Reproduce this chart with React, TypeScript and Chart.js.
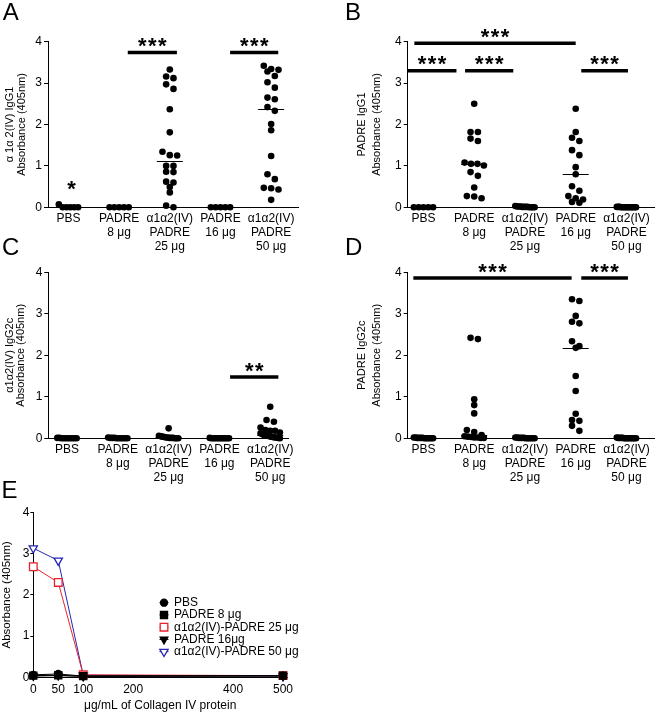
import React, { useEffect, useRef } from 'react';
import { Chart, registerables } from 'chart.js';

Chart.register(...registerables);

const FONT = "'Liberation Sans', Arial, Helvetica, sans-serif";
Chart.defaults.font.family = FONT;
Chart.defaults.color = '#000';

// ---------- shared categories / ticks ----------
const groupLabels: string[][] = [
  ['PBS'],
  ['PADRE', '8 μg'],
  ['α1α2(IV)', 'PADRE', '25 μg'],
  ['PADRE', '16 μg'],
  ['α1α2(IV)', 'PADRE', '50 μg'],
];
const yTicks = [0, 1, 2, 3, 4];

// ---------- Panel A : α1α2(IV) IgG1 ----------
const aPBS = [0.07, 0, 0, 0, 0, 0];
const aPADRE8 = [0, 0, 0, 0, 0];
const aAlpha25 = [3.33, 3.16, 3.12, 2.97, 2.86, 2.37, 1.81, 1.34, 1.26, 1.25, 1.0, 1.0, 0.86, 0.85, 0.62, 0.6, 0.49, 0.36, 0.04, 0.0];
const aPADRE16 = [0, 0, 0, 0, 0];
const aAlpha50 = [3.42, 3.34, 3.32, 3.28, 3.17, 3.02, 2.89, 2.65, 2.61, 2.42, 2.33, 2.01, 1.86, 1.24, 0.8, 0.68, 0.47, 0.46, 0.43, 0.18];
const aSig = [
  { from: 2.17, to: 3.14, y: 3.74, label: '***' },
  { from: 4.19, to: 5.14, y: 3.74, label: '***' },
];
const aMarks = [{ x: 1.06, y: 0.58, label: '*' }];

// ---------- Panel B : PADRE IgG1 ----------
const bPBS = [0, 0, 0, 0, 0];
const bPADRE8 = [2.5, 1.82, 1.82, 1.66, 1.6, 1.08, 1.05, 1.05, 1.01, 0.85, 0.76, 0.48, 0.27, 0.26, 0.22];
const bAlpha25 = [0.03, 0.02, 0.02, 0.02, 0.01, 0.01, 0.01, 0.01, 0, 0, 0, 0];
const bPADRE16 = [2.38, 1.82, 1.68, 1.6, 1.38, 1.26, 0.97, 0.8, 0.51, 0.4, 0.27, 0.22, 0.19, 0.13, 0.11];
const bAlpha50 = [0.01, 0.01, 0.01, 0, 0, 0, 0, 0, 0, 0, 0, 0, 0, 0];
const bSig = [
  { from: 0.82, to: 4.0, y: 3.96, label: '***' },
  { from: 0.69, to: 1.65, y: 3.3, label: '***' },
  { from: 1.82, to: 2.77, y: 3.3, label: '***' },
  { from: 4.11, to: 5.03, y: 3.3, label: '***' },
];

// ---------- Panel C : α1α2(IV) IgG2c ----------
const cPBS = [0.01, 0.01, 0, 0, 0, 0, 0, 0, 0, 0];
const cPADRE8 = [0.02, 0.01, 0.01, 0.01, 0, 0, 0, 0, 0, 0];
const cAlpha25 = [0.24, 0.06, 0.05, 0.04, 0.03, 0.02, 0.02, 0.01, 0.01, 0.01, 0, 0, 0];
const cPADRE16 = [0.01, 0, 0, 0, 0, 0, 0, 0, 0, 0, 0, 0];
const cAlpha50 = [0.76, 0.44, 0.4, 0.26, 0.2, 0.18, 0.18, 0.14, 0.12, 0.1, 0.08, 0.07, 0.06, 0.05, 0.04, 0.03, 0.02, 0.02, 0.01, 0];
const cSig = [{ from: 4.21, to: 5.16, y: 1.48, label: '**' }];

// ---------- Panel D : PADRE IgG2c ----------
const dPBS = [0.02, 0.02, 0.01, 0.01, 0.01, 0.01, 0, 0, 0, 0, 0, 0];
const dPADRE8 = [2.42, 2.39, 0.94, 0.8, 0.6, 0.2, 0.15, 0.08, 0.05, 0.04, 0.03, 0.02, 0.02, 0.01, 0.01];
const dAlpha25 = [0.02, 0.02, 0.01, 0.01, 0.01, 0.01, 0, 0, 0, 0, 0, 0];
const dPADRE16 = [3.35, 3.31, 2.95, 2.81, 2.77, 2.34, 2.22, 2.18, 1.5, 1.14, 0.59, 0.44, 0.42, 0.3, 0.18];
const dAlpha50 = [0.02, 0.01, 0.01, 0.01, 0.01, 0, 0, 0, 0, 0, 0, 0, 0, 0];
const dSig = [
  { from: 0.8, to: 3.92, y: 3.86, label: '***' },
  { from: 4.11, to: 5.03, y: 3.86, label: '***' },
];

// ---------- Panel E : titration ----------
const eConc = [0, 50, 100, 500];
const eTicks = [0, 50, 100, 200, 400, 500];
const eSeriesNames = ['PBS', 'PADRE 8 μg', 'α1α2(IV)-PADRE 25 μg', 'PADRE 16μg', 'α1α2(IV)-PADRE 50 μg'];
const ePBS = [0.06, 0.08, 0.03, 0.04];
const ePADRE8 = [0.04, 0.05, 0.03, 0.04];
const eAlpha25 = [2.68, 2.3, 0.06, 0.04];
const ePADRE16 = [0.03, 0.04, 0.02, 0.03];
const eAlpha50 = [3.13, 2.83, 0.05, 0.03];

// ---------- layout (page pixels) ----------
type Geo = { cl: number; ct: number; cw: number; ch: number; l: number; t: number; r: number; b: number; xMin: number; xMax: number; tlh: number; tpad: number };
const GEO: Record<string, Geo> = {
  A: { cl: 0, ct: 0, cw: 330, ch: 262, l: 48, t: 41.7, r: 298, b: 207.3, xMin: 0.596, xMax: 5.53, tlh: 1.045, tpad: 4.25 },
  B: { cl: 330, ct: 0, cw: 328, ch: 262, l: 407.7, t: 41.7, r: 655, b: 207.3, xMin: 0.689, xMax: 5.557, tlh: 1.31, tpad: 25.1 },
  C: { cl: 0, ct: 240, cw: 330, ch: 262, l: 48.3, t: 272.3, r: 288, b: 438.3, xMin: 0.632, xMax: 5.35, tlh: 0.973, tpad: 4.65 },
  D: { cl: 330, ct: 240, cw: 328, ch: 262, l: 407.7, t: 272.3, r: 655, b: 438.3, xMin: 0.689, xMax: 5.557, tlh: 1.364, tpad: 24.2 },
  E: { cl: 0, ct: 480, cw: 330, ch: 232, l: 33.3, t: 512.3, r: 287, b: 677.3, xMin: 0, xMax: 508, tlh: 1.2, tpad: 0 },
};

type Sig = { from: number; to: number; y: number; label: string };
type Mark = { x: number; y: number; label: string };

const DOT_STEP = 0.145;
const MAX_HALF = 0.19;
const ROW_TOL = 0.13;

function swarm(groups: number[][]) {
  const pts: { x: number; y: number }[] = [];
  groups.forEach((vals, gi) => {
    const sorted = [...vals].sort((p, q) => q - p);
    let i = 0;
    while (i < sorted.length) {
      const start = sorted[i];
      const row: number[] = [];
      while (i < sorted.length && start - sorted[i] < ROW_TOL) {
        row.push(sorted[i]);
        i++;
      }
      const n = row.length;
      const s = n > 1 ? Math.min(DOT_STEP, (2 * MAX_HALF) / (n - 1)) : 0;
      row.forEach((v, k) => pts.push({ x: gi + 1 + (k - (n - 1) / 2) * s, y: v }));
    }
  });
  return pts;
}

function median(vals: number[]) {
  const s = [...vals].sort((p, q) => p - q);
  const n = s.length;
  return n % 2 ? s[(n - 1) / 2] : (s[n / 2 - 1] + s[n / 2]) / 2;
}

function drawStars(ctx: CanvasRenderingContext2D, label: string, cx: number, cy: number) {
  const fs = 22;
  const pitch = 10;
  ctx.font = `bold ${fs}px ${FONT}`;
  ctx.textAlign = 'center';
  ctx.textBaseline = 'alphabetic';
  ctx.fillStyle = '#000';
  const n = label.length;
  for (let k = 0; k < n; k++) {
    ctx.fillText(label[k], cx + (k - (n - 1) / 2) * pitch, cy + 0.575 * fs);
  }
}

function extrasPlugin(groups: number[][], sig: Sig[], marks: Mark[]) {
  return {
    id: 'extras',
    afterDatasetsDraw(chart: any) {
      const { ctx } = chart;
      const x = chart.scales.x;
      const y = chart.scales.y;
      ctx.save();
      ctx.strokeStyle = '#000';
      ctx.lineWidth = 1;
      groups.forEach((vals, i) => {
        const m = median(vals);
        const cx = x.getPixelForValue(i + 1);
        const cy = Math.round(y.getPixelForValue(m)) + 0.5;
        ctx.beginPath();
        ctx.moveTo(cx - 13, cy);
        ctx.lineTo(cx + 13, cy);
        ctx.stroke();
      });
      ctx.lineWidth = 3.5;
      sig.forEach((s) => {
        const x1 = x.getPixelForValue(s.from);
        const x2 = x.getPixelForValue(s.to);
        const yy = y.getPixelForValue(s.y);
        ctx.beginPath();
        ctx.moveTo(x1, yy);
        ctx.lineTo(x2, yy);
        ctx.stroke();
        drawStars(ctx, s.label, (x1 + x2) / 2, yy - 12);
      });
      marks.forEach((m) => drawStars(ctx, m.label, x.getPixelForValue(m.x), y.getPixelForValue(m.y)));
      ctx.restore();
    },
  };
}

function scatterConfig(groups: number[][], sig: Sig[], marks: Mark[], g: Geo, title: string[]): any {
  const YW = g.l - g.cl;
  const XH = g.ct + g.ch - g.b;
  return {
    type: 'scatter',
    data: {
      datasets: [
        {
          data: swarm(groups),
          pointRadius: 3.3,
          pointHoverRadius: 3.3,
          backgroundColor: '#000',
          borderWidth: 0,
          clip: false,
        },
      ],
    },
    options: {
      responsive: false,
      animation: false,
      events: [],
      layout: { padding: { top: g.t - g.ct, left: 0, right: g.cl + g.cw - g.r, bottom: 0 } },
      plugins: { legend: { display: false }, tooltip: { enabled: false } },
      scales: {
        x: {
          type: 'linear',
          min: g.xMin,
          max: g.xMax,
          afterBuildTicks: (s: any) => {
            s.ticks = groupLabels.map((_, i) => ({ value: i + 1 }));
          },
          afterFit: (s: any) => {
            s.height = XH;
          },
          grid: { display: false, drawTicks: false },
          border: { display: true, color: '#000', width: 1 },
          ticks: {
            autoSkip: false,
            maxRotation: 0,
            padding: 4.5,
            color: '#000',
            font: { size: 12, lineHeight: 1.17 },
            callback: (v: any) => groupLabels[Math.round(Number(v)) - 1] ?? '',
          },
        },
        y: {
          type: 'linear',
          min: 0,
          max: 4,
          afterBuildTicks: (s: any) => {
            s.ticks = yTicks.map((v) => ({ value: v }));
          },
          afterFit: (s: any) => {
            s.width = YW;
          },
          grid: { display: true, drawOnChartArea: false, drawTicks: true, tickLength: 4, color: '#000', lineWidth: 1 },
          border: { display: true, color: '#000', width: 1 },
          ticks: { padding: 2, color: '#000', font: { size: 12 } },
          title: {
            display: true,
            text: title,
            color: '#000',
            font: { size: 11, lineHeight: g.tlh },
            padding: { top: g.tpad, bottom: 0 },
          },
        },
      },
    },
    plugins: [extrasPlugin(groups, sig, marks)],
  };
}

function drawMarker(ctx: CanvasRenderingContext2D, style: string, x: number, y: number, r: number, rot: number, fill: string, stroke: string, lw: number) {
  ctx.beginPath();
  if (style === 'circle') {
    ctx.arc(x, y, r, 0, Math.PI * 2);
  } else if (style === 'rect') {
    const s = r * Math.SQRT1_2;
    ctx.rect(x - s, y - s, 2 * s, 2 * s);
  } else {
    let a = (rot * Math.PI) / 180;
    ctx.moveTo(x + Math.sin(a) * r, y - Math.cos(a) * r);
    a += (2 * Math.PI) / 3;
    ctx.lineTo(x + Math.sin(a) * r, y - Math.cos(a) * r);
    a += (2 * Math.PI) / 3;
    ctx.lineTo(x + Math.sin(a) * r, y - Math.cos(a) * r);
    ctx.closePath();
  }
  ctx.fillStyle = fill;
  ctx.fill();
  ctx.lineWidth = lw;
  ctx.strokeStyle = stroke;
  ctx.stroke();
}

const legendPlugin = {
  id: 'eLegend',
  afterDraw(chart: any) {
    const { ctx, chartArea } = chart;
    const mx = chartArea.left + 130.7;
    const tx = chartArea.left + 140.7;
    const y0 = chartArea.top + 90.4;
    const step = 12.25;
    ctx.save();
    chart.data.datasets.forEach((ds: any, i: number) => {
      const yy = y0 + i * step;
      ctx.beginPath();
      ctx.strokeStyle = ds.borderColor;
      ctx.lineWidth = 1;
      ctx.moveTo(mx - 4.5, yy);
      ctx.lineTo(mx + 4.5, yy);
      ctx.stroke();
      drawMarker(ctx, ds.pointStyle, mx, yy, ds.pointRadius, ds.pointRotation || 0, ds.pointBackgroundColor, ds.pointBorderColor, ds.pointBorderWidth);
      ctx.font = `12px ${FONT}`;
      ctx.fillStyle = '#000';
      ctx.textAlign = 'left';
      ctx.textBaseline = 'middle';
      ctx.fillText(ds.label, tx, yy);
    });
    ctx.restore();
  },
};

function eConfig(g: Geo): any {
  const YW = g.l - g.cl;
  const XH = g.ct + g.ch - g.b;
  const mk = (vals: number[]) => vals.map((v, i) => ({ x: eConc[i], y: v }));
  const RED = '#e8232b';
  const BLUE = '#2626b4';
  const base = { borderWidth: 1, clip: false, tension: 0, pointBorderWidth: 1.3 };
  return {
    type: 'line',
    data: {
      datasets: [
        { ...base, label: eSeriesNames[0], data: mk(ePBS), borderColor: '#000', pointStyle: 'circle', pointRadius: 3.5, pointBackgroundColor: '#000', pointBorderColor: '#000' },
        { ...base, label: eSeriesNames[1], data: mk(ePADRE8), borderColor: '#000', pointStyle: 'rect', pointRadius: 5, pointBackgroundColor: '#000', pointBorderColor: '#000' },
        { ...base, label: eSeriesNames[2], data: mk(eAlpha25), borderColor: RED, pointStyle: 'rect', pointRadius: 5.4, pointBackgroundColor: '#fff', pointBorderColor: RED },
        { ...base, label: eSeriesNames[3], data: mk(ePADRE16), borderColor: '#000', pointStyle: 'triangle', pointRotation: 180, pointRadius: 4.4, pointBackgroundColor: '#000', pointBorderColor: '#000' },
        { ...base, label: eSeriesNames[4], data: mk(eAlpha50), borderColor: BLUE, pointStyle: 'triangle', pointRotation: 180, pointRadius: 4.8, pointBackgroundColor: '#fff', pointBorderColor: BLUE },
      ],
    },
    options: {
      responsive: false,
      animation: false,
      events: [],
      layout: { padding: { top: g.t - g.ct, left: 0, right: g.cl + g.cw - g.r, bottom: 0 } },
      plugins: { legend: { display: false }, tooltip: { enabled: false } },
      scales: {
        x: {
          type: 'linear',
          min: g.xMin,
          max: g.xMax,
          afterBuildTicks: (s: any) => {
            s.ticks = eTicks.map((v) => ({ value: v }));
          },
          afterFit: (s: any) => {
            s.height = XH;
          },
          grid: { display: false, drawTicks: false },
          border: { display: true, color: '#000', width: 1 },
          ticks: { autoSkip: false, maxRotation: 0, padding: 5.7, color: '#000', font: { size: 12, lineHeight: 1.17 } },
          title: { display: true, text: 'μg/mL of Collagen IV protein', color: '#000', font: { size: 12, lineHeight: 1 }, padding: 0 },
        },
        y: {
          type: 'linear',
          min: 0,
          max: 4,
          afterBuildTicks: (s: any) => {
            s.ticks = yTicks.map((v) => ({ value: v }));
          },
          afterFit: (s: any) => {
            s.width = YW;
          },
          grid: { display: true, drawOnChartArea: false, drawTicks: true, tickLength: 3, color: '#000', lineWidth: 1 },
          border: { display: true, color: '#000', width: 1 },
          ticks: { padding: 1, color: '#000', font: { size: 12 } },
          title: { display: true, text: 'Absorbance (405nm)', color: '#000', font: { size: 11.5, lineHeight: g.tlh }, padding: { top: g.tpad, bottom: 0 } },
        },
      },
    },
    plugins: [legendPlugin],
  };
}

const PANELS: { key: string; make: () => any }[] = [
  { key: 'A', make: () => scatterConfig([aPBS, aPADRE8, aAlpha25, aPADRE16, aAlpha50], aSig, aMarks, GEO.A, ['α 1α 2(IV) IgG1', 'Absorbance (405nm)']) },
  { key: 'B', make: () => scatterConfig([bPBS, bPADRE8, bAlpha25, bPADRE16, bAlpha50], bSig, [], GEO.B, ['PADRE IgG1', 'Absorbance (405nm)']) },
  { key: 'C', make: () => scatterConfig([cPBS, cPADRE8, cAlpha25, cPADRE16, cAlpha50], cSig, [], GEO.C, ['α1α2(IV) IgG2c', 'Absorbance (405nm)']) },
  { key: 'D', make: () => scatterConfig([dPBS, dPADRE8, dAlpha25, dPADRE16, dAlpha50], dSig, [], GEO.D, ['PADRE IgG2c', 'Absorbance (405nm)']) },
  { key: 'E', make: () => eConfig(GEO.E) },
];

const LETTERS = [
  { t: 'A', left: 2.7, top: 0.2 },
  { t: 'B', left: 345, top: 0.2 },
  { t: 'C', left: 2, top: 234.7 },
  { t: 'D', left: 345, top: 234.7 },
  { t: 'E', left: 1.5, top: 478 },
];

export default function App() {
  const canvases = useRef<(HTMLCanvasElement | null)[]>([]);
  useEffect(() => {
    const charts = PANELS.map((p, i) => new Chart(canvases.current[i] as HTMLCanvasElement, p.make()));
    return () => charts.forEach((c) => c.destroy());
  }, []);
  return (
    <div style={{ position: 'absolute', left: 0, top: 0, width: 658, height: 712, overflow: 'hidden', background: '#fff', fontFamily: FONT }}>
      {PANELS.map((p, i) => {
        const g = GEO[p.key];
        return (
          <canvas
            key={p.key}
            ref={(el) => {
              canvases.current[i] = el;
            }}
            width={g.cw}
            height={g.ch}
            style={{ position: 'absolute', left: g.cl, top: g.ct, width: g.cw, height: g.ch }}
          />
        );
      })}
      {LETTERS.map((l) => (
        <div key={l.t} style={{ position: 'absolute', left: l.left, top: l.top, fontSize: 24, lineHeight: '24px', color: '#000' }}>
          {l.t}
        </div>
      ))}
    </div>
  );
}
